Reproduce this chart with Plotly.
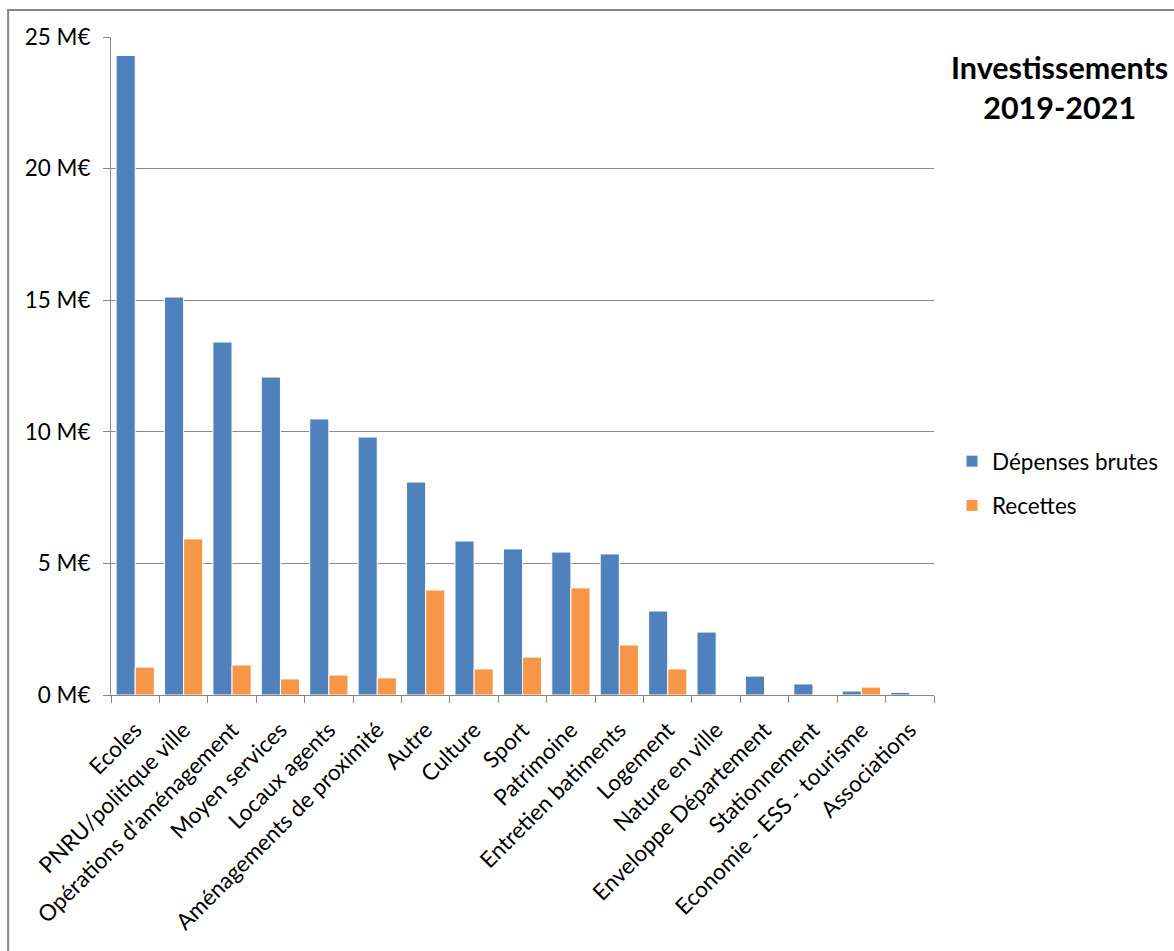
import plotly.graph_objects as go

categories = ["Ecoles", "PNRU/politique ville", "Opérations d'aménagement", "Moyen services",
              "Locaux agents", "Aménagements de proximité", "Autre", "Culture", "Sport",
              "Patrimoine", "Entretien batiments", "Logement", "Nature en ville",
              "Enveloppe Département", "Stationnement", "Economie - ESS - tourisme", "Associations"]
depenses = [24.3, 15.12, 13.41, 12.08, 10.49, 9.80, 8.09, 5.85, 5.55, 5.43, 5.36, 3.19, 2.39, 0.72, 0.42, 0.15, 0.10]
recettes = [1.06, 5.93, 1.14, 0.61, 0.76, 0.65, 3.99, 0.99, 1.44, 4.07, 1.90, 0.99, 0.0, 0.0, 0.0, 0.30, 0.0]

FONT = "Lato, Carlito, Calibri, sans-serif"

fig = go.Figure()
fig.add_trace(go.Bar(x=categories, y=depenses, name="Dépenses brutes", legendgroup="a",
                     marker=dict(color="#4F81BD", line=dict(color="white", width=1))))
fig.add_trace(go.Bar(x=categories, y=recettes, name="Recettes", legendgroup="b",
                     marker=dict(color="#F79646", line=dict(color="white", width=1))))

W, H = 1174, 951
L, R, T, B = 111, 935, 37, 695
pw, ph = R - L, B - T

fig.update_layout(
    width=W, height=H,
    margin=dict(l=L, r=W - R, t=T, b=H - B),
    paper_bgcolor="white", plot_bgcolor="white",
    barmode="group", bargap=0.21, bargroupgap=0,
    font=dict(family=FONT, size=22, color="black"),
    showlegend=True,
    legend=dict(x=(952 - L) / pw, y=(695 - 440) / ph, xanchor="left", yanchor="top",
                font=dict(size=22.5), itemwidth=30, traceorder="grouped", tracegroupgap=12,
                bgcolor="rgba(0,0,0,0)"),
    xaxis=dict(tickangle=-45, showline=True, linecolor="#868686", linewidth=1,
               ticks="outside", tickson="boundaries", ticklen=7, tickcolor="#868686",
               tickfont=dict(size=22.5), showgrid=False, ticklabelstandoff=12),
    yaxis=dict(range=[0, 25], dtick=5, ticksuffix=" M€", showline=True, linecolor="#868686",
               linewidth=1, ticks="outside", ticklen=7, tickcolor="#868686",
               showgrid=True, gridcolor="#8c8c8c", gridwidth=1, zeroline=False,
               tickfont=dict(size=22.5), ticklabelstandoff=8),
)

fig.add_annotation(text="<b>Investissements<br>2019-2021</b>", xref="paper", yref="paper",
                   x=(1061 - L) / pw, y=(695 - 47) / ph, xanchor="center", yanchor="top",
                   showarrow=False, font=dict(size=30.5, family=FONT), align="center")

fig.add_shape(type="rect", xref="paper", yref="paper",
              x0=(8 - L) / pw, x1=(1190 - L) / pw, y0=(695 - 970) / ph, y1=(695 - 10) / ph,
              line=dict(color="#868686", width=2), fillcolor="rgba(0,0,0,0)", layer="below")

fig.write_html("out.html")
